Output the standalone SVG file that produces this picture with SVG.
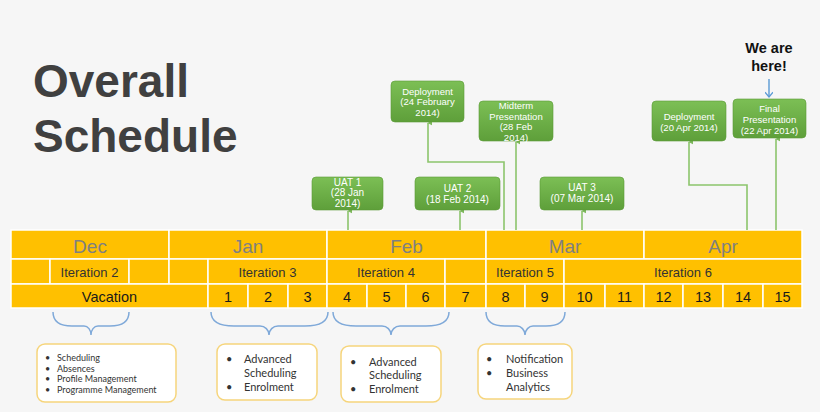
<svg xmlns="http://www.w3.org/2000/svg" width="820" height="412" viewBox="0 0 820 412">
<defs>
<linearGradient id="gr" x1="0" y1="0" x2="0" y2="1">
<stop offset="0" stop-color="#7cbf55"/>
<stop offset="1" stop-color="#5e9f3a"/>
</linearGradient>
<marker id="ag" viewBox="0 0 8 8" refX="4" refY="1" markerWidth="5" markerHeight="5" orient="auto-start-reverse" markerUnits="userSpaceOnUse">
<path d="M0,8 L4,0 L8,8 z" fill="#7db85c"/>
</marker>
<marker id="ab" viewBox="0 0 10 10" refX="5" refY="9" markerWidth="8" markerHeight="8" markerUnits="userSpaceOnUse">
<path d="M0,3 L5,9 L10,3" fill="none" stroke="#5b9bd5" stroke-width="1.6"/>
</marker>
</defs>
<style>
.title{font-family:"Liberation Sans",Arial,sans-serif;font-weight:bold;font-size:46px;fill:#404040}
.cell{fill:#ffc000;stroke:#fff;stroke-width:1.5}
.mon{font-family:"Liberation Sans",Arial,sans-serif;font-size:19px;fill:#808080;text-anchor:middle}
.it{font-family:"Liberation Sans",Arial,sans-serif;font-size:13px;fill:#333;text-anchor:middle}
.wk{font-family:"Liberation Sans",Arial,sans-serif;font-size:14.5px;fill:#1a1a1a;text-anchor:middle}
.gb{fill:url(#gr);stroke:#5a9a38;stroke-width:0.6}
.gt{font-family:"Liberation Sans",Arial,sans-serif;font-size:9.5px;fill:#fff;text-anchor:middle}
.gt10{font-size:10px}
.conn{fill:none;stroke:#8cc56c;stroke-width:1.6}
.brace{fill:none;stroke:#7fa9d9;stroke-width:1.5}
.wb{fill:#fff;stroke:#f6d57c;stroke-width:1.5}
.bt{font-family:Lato,"Open Sans",sans-serif;fill:#333}
.here{font-family:"Liberation Sans",Arial,sans-serif;font-weight:bold;font-size:14.5px;fill:#111;text-anchor:middle}
</style>
<rect width="820" height="412" fill="#f6f6f6"/>

<g id="title">
<text class="title" x="33" y="97">Overall</text>
<text class="title" x="33" y="152">Schedule</text>
</g>

<g id="timeline">
<g id="months">
<rect class="cell" x="11" y="230" width="158" height="29"/>
<rect class="cell" x="169" y="230" width="158" height="29"/>
<rect class="cell" x="327" y="230" width="159" height="29"/>
<rect class="cell" x="486" y="230" width="158" height="29"/>
<rect class="cell" x="644" y="230" width="158" height="29"/>
<text class="mon" x="90" y="253">Dec</text>
<text class="mon" x="248" y="253">Jan</text>
<text class="mon" x="406.5" y="253">Feb</text>
<text class="mon" x="565" y="253">Mar</text>
<text class="mon" x="723" y="253">Apr</text>
</g>
<g id="iterations">
<rect class="cell" x="11" y="259" width="39" height="25"/>
<rect class="cell" x="50" y="259" width="79" height="25"/>
<rect class="cell" x="129" y="259" width="40" height="25"/>
<rect class="cell" x="169" y="259" width="39" height="25"/>
<rect class="cell" x="208" y="259" width="119" height="25"/>
<rect class="cell" x="327" y="259" width="118" height="25"/>
<rect class="cell" x="445" y="259" width="41" height="25"/>
<rect class="cell" x="486" y="259" width="78" height="25"/>
<rect class="cell" x="564" y="259" width="238" height="25"/>
<text class="it" x="89.5" y="277">Iteration 2</text>
<text class="it" x="267.5" y="277">Iteration 3</text>
<text class="it" x="386" y="277">Iteration 4</text>
<text class="it" x="525" y="277">Iteration 5</text>
<text class="it" x="683" y="277">Iteration 6</text>
</g>
<g id="weeks">
<rect class="cell" x="11" y="284" width="197" height="24"/>
<rect class="cell" x="208" y="284" width="40" height="24"/>
<rect class="cell" x="248" y="284" width="40" height="24"/>
<rect class="cell" x="288" y="284" width="39" height="24"/>
<rect class="cell" x="327" y="284" width="40" height="24"/>
<rect class="cell" x="367" y="284" width="39" height="24"/>
<rect class="cell" x="406" y="284" width="39" height="24"/>
<rect class="cell" x="445" y="284" width="41" height="24"/>
<rect class="cell" x="486" y="284" width="39" height="24"/>
<rect class="cell" x="525" y="284" width="39" height="24"/>
<rect class="cell" x="564" y="284" width="41" height="24"/>
<rect class="cell" x="605" y="284" width="39" height="24"/>
<rect class="cell" x="644" y="284" width="39" height="24"/>
<rect class="cell" x="683" y="284" width="40" height="24"/>
<rect class="cell" x="723" y="284" width="40" height="24"/>
<rect class="cell" x="763" y="284" width="39" height="24"/>
<text class="wk" x="109.5" y="302">Vacation</text>
<text class="wk" x="228" y="302">1</text>
<text class="wk" x="268" y="302">2</text>
<text class="wk" x="307.5" y="302">3</text>
<text class="wk" x="347" y="302">4</text>
<text class="wk" x="386.5" y="302">5</text>
<text class="wk" x="425.5" y="302">6</text>
<text class="wk" x="465.5" y="302">7</text>
<text class="wk" x="505.5" y="302">8</text>
<text class="wk" x="544.5" y="302">9</text>
<text class="wk" x="584.5" y="302">10</text>
<text class="wk" x="624.5" y="302">11</text>
<text class="wk" x="663.5" y="302">12</text>
<text class="wk" x="703" y="302">13</text>
<text class="wk" x="743" y="302">14</text>
<text class="wk" x="782.5" y="302">15</text>
</g>
</g>

<g id="connectors">
<path class="conn" d="M348,230 V211" marker-end="url(#ag)"/>
<path class="conn" d="M460,230 V211" marker-end="url(#ag)"/>
<path class="conn" d="M582,230 V211" marker-end="url(#ag)"/>
<path class="conn" d="M504,230 V162 H428 V123" marker-end="url(#ag)"/>
<path class="conn" d="M516,230 V142" marker-end="url(#ag)"/>
<path class="conn" d="M747,230 V185 H689 V142" marker-end="url(#ag)"/>
<path class="conn" d="M776,230 V139" marker-end="url(#ag)"/>
<path d="M769,79 V97" fill="none" stroke="#5b9bd5" stroke-width="1.4" marker-end="url(#ab)"/>
</g>

<g id="we-are-here">
<text class="here" x="769" y="53">We are</text>
<text class="here" x="769" y="71">here!</text>
</g>

<g id="uat1">
<rect class="gb" x="312" y="177" width="71" height="33" rx="4"/>
<text class="gt gt10" x="347.5" y="185.5">UAT 1</text>
<text class="gt gt10" x="347.5" y="196">(28 Jan</text>
<text class="gt gt10" x="347.5" y="206.5">2014)</text>
</g>
<g id="uat2">
<rect class="gb" x="415" y="177" width="85" height="33" rx="4"/>
<text class="gt gt10" x="457.5" y="191.5">UAT 2</text>
<text class="gt gt10" x="457.5" y="202.5">(18 Feb 2014)</text>
</g>
<g id="uat3">
<rect class="gb" x="540" y="177" width="84" height="33" rx="4"/>
<text class="gt gt10" x="582" y="190.5">UAT 3</text>
<text class="gt gt10" x="582" y="201.5">(07 Mar 2014)</text>
</g>
<g id="deploy-feb">
<rect class="gb" x="391" y="81" width="73" height="41" rx="4"/>
<text class="gt" x="427.5" y="94.5">Deployment</text>
<text class="gt" x="427.5" y="105">(24 February</text>
<text class="gt" x="427.5" y="115.5">2014)</text>
</g>
<g id="midterm">
<rect class="gb" x="479" y="101" width="74" height="40" rx="4"/>
<text class="gt" x="516" y="108.5">Midterm</text>
<text class="gt" x="516" y="119.5">Presentation</text>
<text class="gt" x="516" y="130">(28 Feb</text>
<text class="gt" x="516" y="140.5">2014)</text>
</g>
<g id="deploy-apr">
<rect class="gb" x="652" y="101" width="74" height="40" rx="4"/>
<text class="gt" x="689" y="119.5">Deployment</text>
<text class="gt" x="689" y="130.5">(20 Apr 2014)</text>
</g>
<g id="final">
<rect class="gb" x="733" y="99" width="73" height="39" rx="4"/>
<text class="gt" x="769.5" y="111.5">Final</text>
<text class="gt" x="769.5" y="122.5">Presentation</text>
<text class="gt" x="769.5" y="133.5">(22 Apr 2014)</text>
</g>

<g id="braces">
<path class="brace" d="M53,312 C53,322 60,326 72,326 L84,326 C88,326 91,330 91,335 C91,330 94,326 98,326 L110,326 C122,326 129,322 129,312"/>
<path class="brace" d="M211,312 C211,322 220,326 234,326 L260,326 C265,326 269,330 269,335 C269,330 273,326 278,326 L305,326 C319,326 328,322 328,312"/>
<path class="brace" d="M333,312 C333,322 342,326 356,326 L382,326 C387,326 391,330 391,335 C391,330 395,326 400,326 L426,326 C440,326 449,322 449,312"/>
<path class="brace" d="M486,312 C486,322 493,326 505,326 L517,326 C521,326 525,330 525,335 C525,330 529,326 533,326 L546,326 C558,326 565,322 565,312"/>
</g>

<g id="box-dec">
<rect class="wb" x="37" y="344" width="139" height="58" rx="8"/>
<g class="bt" font-size="9">
<text x="45" y="361">•</text><text x="57" y="361">Scheduling</text>
<text x="45" y="371.5">•</text><text x="57" y="371.5">Absences</text>
<text x="45" y="382">•</text><text x="57" y="382">Profile Management</text>
<text x="45" y="393">•</text><text x="57" y="393">Programme Management</text>
</g>
</g>
<g id="box-jan">
<rect class="wb" x="217" y="344" width="100" height="56" rx="8"/>
<g class="bt" font-size="11">
<text x="226" y="363">•</text><text x="244" y="363">Advanced</text>
<text x="244" y="377">Scheduling</text>
<text x="226" y="391">•</text><text x="244" y="391">Enrolment</text>
</g>
</g>
<g id="box-feb">
<rect class="wb" x="341" y="346" width="100" height="56" rx="8"/>
<g class="bt" font-size="11">
<text x="350" y="366">•</text><text x="369" y="366">Advanced</text>
<text x="369" y="379">Scheduling</text>
<text x="350" y="393">•</text><text x="369" y="393">Enrolment</text>
</g>
</g>
<g id="box-mar">
<rect class="wb" x="478" y="344" width="94" height="55" rx="8"/>
<g class="bt" font-size="11">
<text x="486" y="363">•</text><text x="506" y="363">Notification</text>
<text x="486" y="377">•</text><text x="506" y="377">Business</text>
<text x="506" y="391">Analytics</text>
</g>
</g>
</svg>
